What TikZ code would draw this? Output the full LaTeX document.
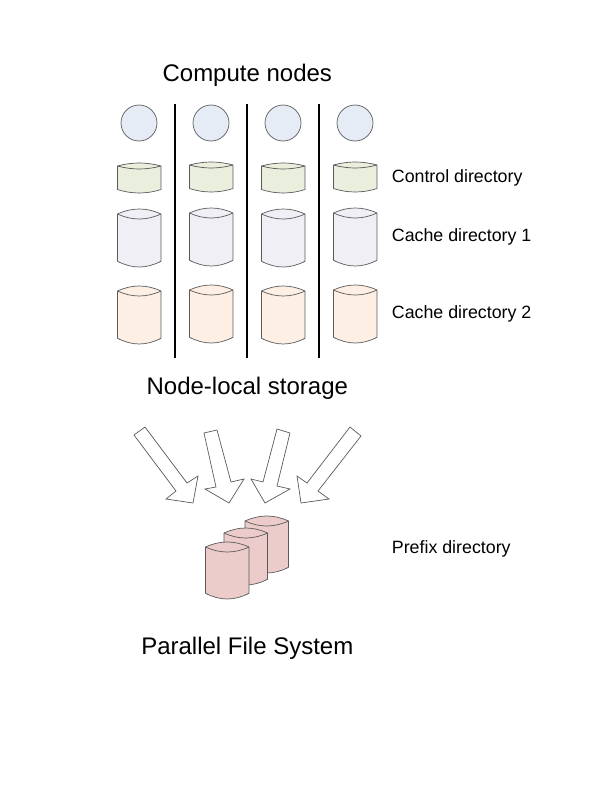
\documentclass[tikz,border=0pt]{standalone}
\usepackage{fontspec}
\setmainfont{Liberation Sans}
\definecolor{cNode}{HTML}{E6ECF6}
\definecolor{cCtl}{HTML}{EAEEDD}
\definecolor{cOne}{HTML}{F0EFF5}
\definecolor{cTwo}{HTML}{FDEFE3}
\definecolor{cPre}{HTML}{ECCCCB}
\definecolor{cEdge}{HTML}{5A5A5A}
\tikzset{
  cylshape/.style={draw=cEdge,line width=0.7pt,line join=round},
  comp/.style={circle,draw=cEdge,line width=0.7pt,fill=cNode,minimum size=36pt,inner sep=0pt},
  divider/.style={draw=black,line width=2pt},
  bigflow/.style={draw=cEdge,line width=0.7pt,fill=white,line join=miter},
  titletext/.style={font=\fontsize{24}{28}\selectfont,inner sep=0pt},
  sidetext/.style={font=\fontsize{17.8}{21}\selectfont,anchor=west,inner sep=0pt}
}
% #1 fill, #2 left x, #3 top of lid, #4 total height, #5 sag of the curves
\newcommand{\drum}[5]{%
  \pgfmathsetmacro{\xa}{#2}\pgfmathsetmacro{\xb}{#2+43.5}%
  \pgfmathsetmacro{\xc}{#2+14.5}\pgfmathsetmacro{\xd}{#2+29}%
  \pgfmathsetmacro{\yb}{#3+#5}%
  \pgfmathsetmacro{\yt}{#3-#5/3}\pgfmathsetmacro{\yl}{#3+#5+#5*4/3}%
  \pgfmathsetmacro{\yc}{#3+#4-#5*1.15}\pgfmathsetmacro{\ye}{#3+#4+#5*0.38}%
  \path[cylshape,fill=#1] (\xa,\yb) .. controls (\xc,\yt) and (\xd,\yt) .. (\xb,\yb)
    -- (\xb,\yc) .. controls (\xd,\ye) and (\xc,\ye) .. (\xa,\yc) -- cycle;
  \path[cylshape] (\xa,\yb) .. controls (\xc,\yl) and (\xd,\yl) .. (\xb,\yb);
}
\begin{document}
\begin{tikzpicture}[x=1pt,y=-1pt]
\useasboundingbox (0,0) rectangle (612,792);
\node[titletext] (t1) at (247.3,75) {Compute nodes};
\node[titletext] (t2) at (247.3,388) {Node-local storage};
\node[titletext] (t3) at (247.3,648) {Parallel File System};
\node[sidetext] (l1) at (391.7,178) {Control directory};
\node[sidetext] (l2) at (391.7,237) {Cache directory 1};
\node[sidetext] (l3) at (391.7,314) {Cache directory 2};
\node[sidetext] (l4) at (391.7,549) {Prefix directory};
\node[comp] (n1) at (139,123) {};
\node[comp] (n2) at (211,123) {};
\node[comp] (n3) at (283,123) {};
\node[comp] (n4) at (355,123) {};
\draw[divider] (175,104) -- (175,358);
\draw[divider] (247,104) -- (247,358);
\draw[divider] (319,104) -- (319,358);
\drum{cCtl}{117.5}{163}{30}{3}
\drum{cCtl}{189.5}{162}{30}{3}
\drum{cCtl}{261.5}{163}{30}{3}
\drum{cCtl}{333.5}{162}{30}{3}
\drum{cOne}{117.5}{209}{58}{5}
\drum{cOne}{189.5}{208}{58}{5}
\drum{cOne}{261.5}{209}{58}{5}
\drum{cOne}{333.5}{208}{58}{5}
\drum{cTwo}{117.5}{286}{58}{5}
\drum{cTwo}{189.5}{285}{58}{5}
\drum{cTwo}{261.5}{286}{58}{5}
\drum{cTwo}{333.5}{285}{58}{5}
\draw[bigflow] (134,435) -- (145,427) -- (187,483) -- (198,476) -- (193,503) -- (166,499) -- (176,491) -- cycle;
\draw[bigflow] (204,433) -- (217,430) -- (231,482) -- (244,479) -- (229,503) -- (205,489) -- (216,487) -- cycle;
\draw[bigflow] (277,429) -- (290,433) -- (277,486) -- (290,489) -- (265,503) -- (251,479) -- (263,482) -- cycle;
\draw[bigflow] (350,427) -- (361,436) -- (318,491) -- (329,499) -- (301,503) -- (297,476) -- (307,483) -- cycle;
\drum{cPre}{245}{516}{57}{5}
\drum{cPre}{224}{528}{57}{5}
\drum{cPre}{205.5}{542}{57}{5}
\end{tikzpicture}
\end{document}
